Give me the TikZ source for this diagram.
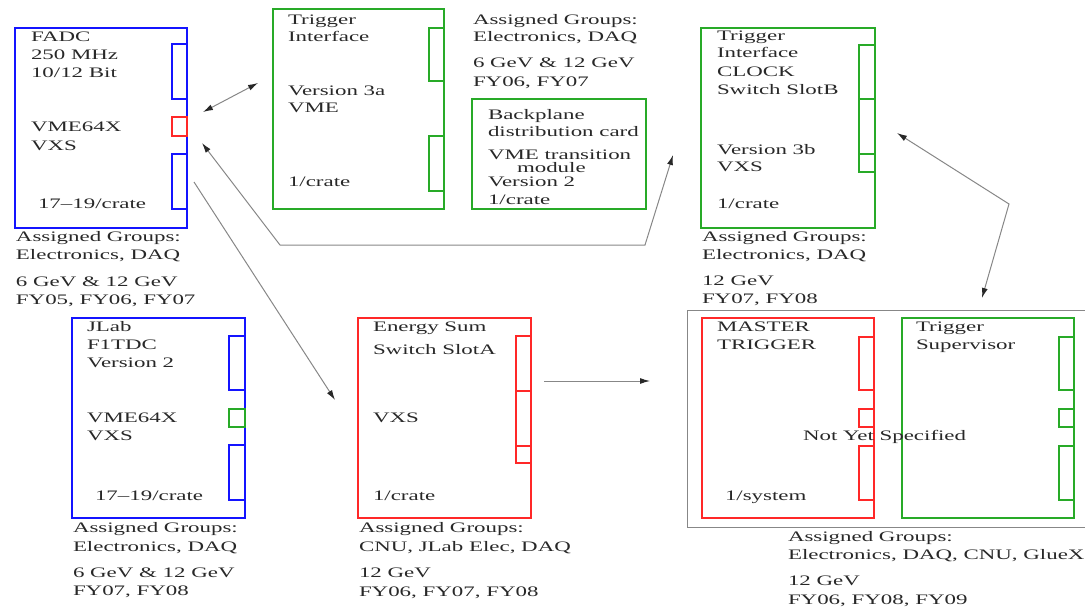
\documentclass[tikz,border=0pt]{standalone}
\usepackage{fontspec}
\newfontfamily\wide{Liberation Serif}[FakeStretch=1.58]
\usetikzlibrary{arrows.meta,fit}
\definecolor{cblue}{RGB}{20,20,255}
\definecolor{cgreen}{RGB}{40,170,40}
\definecolor{cred}{RGB}{255,40,40}
\definecolor{ctext}{RGB}{40,40,40}
\definecolor{cline}{RGB}{135,135,135}
\tikzset{
  card/.style={draw=#1, line width=1.2pt, inner sep=0pt, outer sep=0pt},
  txt/.style={anchor=base west, inner sep=0pt, outer sep=0pt, text=ctext,
    font=\wide\fontsize{14.5}{17}\selectfont},
  conn/.style={draw=cline, line width=1pt},
  >={Latex[length=10pt,width=6pt,color=ctext]}
}
\newcommand\T[4]{\node[txt] (#1) at (#2,#3+4.8) {#4};}
\begin{document}
\begin{tikzpicture}[x=1pt,y=-1pt]
\useasboundingbox (0,0) rectangle (1085,607);
\clip (0,0) rectangle (1085,607);

% ---------- FADC ----------
\node[card=cblue, fit={(15,28) (187,228)}] (fadc) {};
\node[card=cblue, fit={(172,44) (187,99)}] (fadcA) {};
\node[card=cred,  fit={(172,117) (187,136)}] (fadcB) {};
\node[card=cblue, fit={(172,154) (187,209)}] (fadcC) {};
\T{f1}{31}{36.5}{FADC}
\T{f2}{31}{54.5}{250 MHz}
\T{f3}{31}{72.5}{10/12 Bit}
\T{f4}{31}{127}{VME64X}
\T{f5}{31}{146}{VXS}
\T{f6}{38}{204}{17–19/crate}
\T{f7}{16}{237}{Assigned Groups:}
\T{f8}{16}{255}{Electronics, DAQ}
\T{f9}{16}{281.5}{6 GeV \& 12 GeV}
\T{f10}{16}{300}{FY05, FY06, FY07}

% ---------- Trigger Interface 3a ----------
\node[card=cgreen, fit={(273,9) (444,209)}] (ti) {};
\node[card=cgreen, fit={(429,28) (444,81)}] (tiA) {};
\node[card=cgreen, fit={(429,136) (444,191)}] (tiB) {};
\T{t1}{288}{19.3}{Trigger}
\T{t2}{288}{36.5}{Interface}
\T{t3}{288}{90.5}{Version 3a}
\T{t4}{288}{108}{VME}
\T{t5}{288}{181.5}{1/crate}
\T{t6}{473}{19.5}{Assigned Groups:}
\T{t7}{473}{36.5}{Electronics, DAQ}
\T{t8}{473}{63}{6 GeV \& 12 GeV}
\T{t9}{473}{81.5}{FY06, FY07}

% ---------- Backplane ----------
\node[card=cgreen, fit={(472,99) (646,209)}] (bp) {};
\T{b1}{488}{115}{Backplane}
\T{b2}{488}{131.5}{distribution card}
\T{b3}{488}{155}{VME transition}
\T{b4}{517}{167.5}{module}
\T{b5}{488}{182}{Version 2}
\T{b6}{488}{200}{1/crate}

% ---------- Trigger Interface 3b ----------
\node[card=cgreen, fit={(701,28) (875,228)}] (tib) {};
\node[card=cgreen, fit={(859,45) (875,99)}] (tibA) {};
\node[card=cgreen, fit={(859,99) (875,154)}] (tibB) {};
\node[card=cgreen, fit={(859,154) (875,172)}] (tibC) {};
\T{s1}{717}{36}{Trigger}
\T{s2}{717}{53}{Interface}
\T{s3}{717}{72}{CLOCK}
\T{s4}{717}{90}{Switch SlotB}
\T{s5}{717}{150}{Version 3b}
\T{s6}{717}{167}{VXS}
\T{s7}{717}{204}{1/crate}
\T{s8}{702}{237}{Assigned Groups:}
\T{s9}{702}{255}{Electronics, DAQ}
\T{s10}{702}{281}{12 GeV}
\T{s11}{702}{299}{FY07, FY08}

% ---------- JLab F1TDC ----------
\node[card=cblue, fit={(72,318) (245,518)}] (tdc) {};
\node[card=cblue,  fit={(229,336) (245,390)}] (tdcA) {};
\node[card=cgreen, fit={(229,409) (245,427)}] (tdcB) {};
\node[card=cblue,  fit={(229,445) (245,500)}] (tdcC) {};
\T{j1}{87}{327}{JLab}
\T{j2}{87}{345}{F1TDC}
\T{j3}{87}{363}{Version 2}
\T{j4}{87}{418}{VME64X}
\T{j5}{87}{436}{VXS}
\T{j6}{95}{496}{17–19/crate}
\T{j7}{73}{528}{Assigned Groups:}
\T{j8}{73}{547}{Electronics, DAQ}
\T{j9}{73}{573}{6 GeV \& 12 GeV}
\T{j10}{73}{591}{FY07, FY08}

% ---------- Energy Sum ----------
\node[card=cred, fit={(358,318) (531,518)}] (es) {};
\node[card=cred, fit={(516,336) (531,391)}] (esA) {};
\node[card=cred, fit={(516,391) (531,446)}] (esB) {};
\node[card=cred, fit={(516,446) (531,463)}] (esC) {};
\T{e1}{373}{327}{Energy Sum}
\T{e2}{373}{350}{Switch SlotA}
\T{e3}{373}{418}{VXS}
\T{e4}{373}{496}{1/crate}
\T{e5}{359}{528}{Assigned Groups:}
\T{e6}{359}{547}{CNU, JLab Elec, DAQ}
\T{e7}{359}{573}{12 GeV}
\T{e8}{359}{592}{FY06, FY07, FY08}

% ---------- Master Trigger / Trigger Supervisor ----------
\node[draw=cline, line width=1pt, inner sep=0pt, fit={(687,310) (1100,527)}] (grp) {};
\node[card=cred, fit={(702,318) (874,518)}] (mt) {};
\node[card=cred, fit={(859,337) (874,390)}] (mtA) {};
\node[card=cred, fit={(859,409) (874,427)}] (mtB) {};
\node[card=cred, fit={(859,446) (874,500)}] (mtC) {};
\node[card=cgreen, fit={(902,318) (1074,518)}] (ts) {};
\node[card=cgreen, fit={(1059,337) (1074,390)}] (tsA) {};
\node[card=cgreen, fit={(1059,409) (1074,427)}] (tsB) {};
\node[card=cgreen, fit={(1059,446) (1074,500)}] (tsC) {};
\T{m1}{717}{327}{MASTER}
\T{m2}{717}{345}{TRIGGER}
\T{m3}{725}{496}{1/system}
\T{m4}{916}{327}{Trigger}
\T{m5}{916}{345}{Supervisor}
\T{m6}{803}{436}{Not Yet Specified}
\T{m7}{788}{537}{Assigned Groups:}
\T{m8}{788}{555}{Electronics, DAQ, CNU, GlueX}
\T{m9}{788}{581}{12 GeV}
\T{m10}{788}{600}{FY06, FY08, FY09}

% ---------- connectors ----------
\coordinate (a1) at (203,112);
\coordinate (a2) at (258,83);
\draw[conn,<->] (a1) -- (a2);

\coordinate (p1) at (202,143);
\coordinate (p2) at (280,245);
\coordinate (p3) at (645,245);
\coordinate (p4) at (673,155);
\draw[conn,<->] (p1) -- (p2) -- (p3) -- (p4);

\coordinate (q1) at (194,182);
\coordinate (q2) at (335,400);
\draw[conn,->] (q1) -- (q2);

\coordinate (r1) at (544,381);
\coordinate (r2) at (650,381);
\draw[conn,->] (r1) -- (r2);

\coordinate (u1) at (897,133);
\coordinate (u2) at (1009,204);
\coordinate (u3) at (982,298);
\draw[conn,<->] (u1) -- (u2) -- (u3);
\end{tikzpicture}
\end{document}
